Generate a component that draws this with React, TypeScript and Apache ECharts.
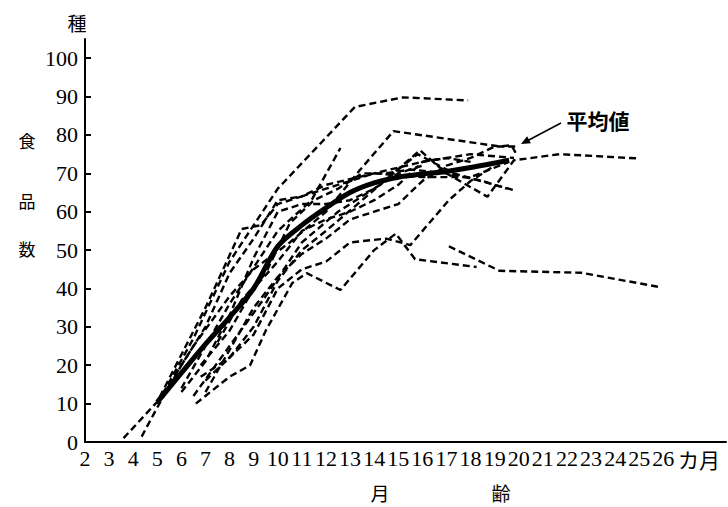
import React, { useEffect, useRef } from "react";
import * as echarts from "echarts";

// months (x) / food counts (y)
const xTicks = [2, 3, 4, 5, 6, 7, 8, 9, 10, 11, 12, 13, 14, 15, 16, 17, 18, 19, 20, 21, 22, 23, 24, 25, 26];
const yTicks = [0, 10, 20, 30, 40, 50, 60, 70, 80, 90, 100];

const average: number[][] = [
  [5, 10.4], [6, 18], [7, 25.5], [8, 32.5], [9, 40], [10, 51], [11, 56.5], [12, 61],
  [13, 65], [14, 67.5], [15, 69], [16, 69.8], [17, 70.5], [18, 71.5], [19.6, 73.4],
];

const child1 = [[5, 10], [6.5, 27], [8, 47], [10, 66], [13.2, 87.3], [15.2, 89.8], [17.9, 89]];
const child2 = [[5, 10], [6.5, 25], [8, 38], [9, 45], [10.5, 52], [12, 60], [13.4, 70.8], [14.8, 81], [17, 79], [19.2, 77], [19.7, 77.3], [19.9, 75]];
const child3 = [[6, 14], [8, 36], [10, 55], [11.4, 63], [12.6, 76.6]];
const child4 = [[3.6, 1], [5, 10.5], [7, 35], [8.5, 55.5], [9.3, 56.5], [10, 62], [11, 64], [12, 67], [14, 70], [16, 73], [18, 75], [19.8, 74]];
const child5 = [[7, 16], [8, 22], [9, 30], [10, 42], [11, 50], [12, 55], [13.5, 63], [15.9, 76], [17, 70], [18.7, 63.9], [19.8, 73.4], [21.7, 75], [24.9, 73.9]];
const child6 = [[6.5, 12], [8, 25], [9.5, 38], [11, 52], [12.5, 60], [14, 66], [15.8, 75], [17.3, 70], [19.8, 65.6]];
const child7 = [[6.6, 10], [8, 17], [8.85, 20], [9.5, 29], [10.6, 41.4], [11.2, 44], [12.6, 39.6], [14, 50], [14.9, 54.3], [15.7, 47.6], [18.25, 45.6]];
const child8 = [[6.8, 17], [8, 22], [9, 28], [10, 40], [11, 45], [12, 47], [13, 52], [14.5, 53], [15.5, 51.3], [17.1, 63], [18, 68], [19, 72]];
const child9 = [[17.1, 51], [19.2, 44.6], [22.6, 44.1], [25.9, 40.3]];
const child10 = [[7, 13], [8, 24], [9, 35], [10, 43], [11, 49], [12, 53], [13, 58], [14, 60], [15, 62], [16, 68], [17, 72], [18, 74], [19, 77], [20, 77]];
const child11 = [[6, 13], [7, 21], [8, 33], [9, 48], [10, 60], [11, 62], [12, 62], [13, 63], [14, 66], [15, 70], [16, 72]];
const child12 = [[4.35, 1.4], [5, 9], [6, 20], [7, 30], [8, 44], [9, 53], [10, 63], [11, 64], [12, 66], [13, 68], [14, 70], [16, 69], [18, 69], [19.6, 73]];
const child13 = [[6.8, 20], [8, 29], [9, 40], [10, 47], [11, 55], [12, 58], [13, 60], [14, 63], [15, 67], [16, 73], [17, 74], [18, 73]];
const child14 = [[7.5, 26], [8.5, 37], [9.5, 44], [10.5, 57], [11.5, 63], [12.5, 66], [13.5, 70], [14.5, 70], [15.5, 71], [17, 70], [18.5, 68], [19.5, 66]];

const children = [child1, child2, child3, child4, child5, child6, child7, child8, child9, child10, child11, child12, child13, child14];

const serif = "'Liberation Serif', 'Times New Roman', serif";
const cjk = "Noto Sans CJK JP";

export default function App() {
  const ref = useRef<HTMLDivElement>(null);
  useEffect(() => {
    if (!ref.current) return;
    const chart = echarts.init(ref.current, undefined, { renderer: "svg" });
    const dashed = children.map((d, i) => ({
      name: "c" + i,
      type: "line",
      data: d,
      symbol: "none",
      smooth: false,
      lineStyle: { color: "#000", width: 2.4, type: [7, 4] },
      z: 2,
    }));
    chart.setOption({
      animation: false,
      backgroundColor: "#fff",
      grid: { left: 85, right: 2, top: 39, bottom: 65 },
      xAxis: {
        type: "value",
        min: 2,
        max: 28.6,
        splitLine: { show: false },
        axisLine: { lineStyle: { color: "#000", width: 2 } },
        axisTick: { show: false },
        axisLabel: {
          customValues: xTicks,
          color: "#000",
          fontFamily: serif,
          fontSize: 22,
          margin: 5,
        },
      },
      yAxis: {
        type: "value",
        min: 0,
        max: 105,
        splitLine: { show: false },
        axisLine: { show: true, lineStyle: { color: "#000", width: 2 } },
        axisTick: { show: true, inside: true, length: 6, customValues: yTicks, lineStyle: { color: "#000", width: 2 } },
        axisLabel: {
          customValues: yTicks,
          color: "#000",
          fontFamily: serif,
          fontSize: 22,
          margin: 7,
        },
      },
      series: [
        ...dashed,
        {
          name: "平均値",
          type: "line",
          data: average,
          symbol: "none",
          smooth: 0.3,
          lineStyle: { color: "#000", width: 5 },
          z: 3,
        },
      ],
      graphic: [
        { type: "text", x: 77, y: 22, style: { text: "種", fontFamily: cjk, fontSize: 19, fill: "#000", align: "center", verticalAlign: "middle" } },
        { type: "text", x: 27, y: 140, style: { text: "食", fontFamily: cjk, fontSize: 17, fill: "#000", align: "center", verticalAlign: "middle" } },
        { type: "text", x: 27, y: 200, style: { text: "品", fontFamily: cjk, fontSize: 17, fill: "#000", align: "center", verticalAlign: "middle" } },
        { type: "text", x: 27, y: 248, style: { text: "数", fontFamily: cjk, fontSize: 17, fill: "#000", align: "center", verticalAlign: "middle" } },
        { type: "text", x: 380, y: 492, style: { text: "月", fontFamily: cjk, fontSize: 19, fill: "#000", align: "center", verticalAlign: "middle" } },
        { type: "text", x: 501, y: 492, style: { text: "齢", fontFamily: cjk, fontSize: 19, fill: "#000", align: "center", verticalAlign: "middle" } },
        { type: "text", x: 678, y: 459, style: { text: "カ月", fontFamily: cjk, fontSize: 21, fill: "#000", align: "left", verticalAlign: "middle" } },
        { type: "text", x: 598, y: 120, style: { text: "平均値", fontFamily: cjk, fontWeight: "bold", fontSize: 21, fill: "#000", align: "center", verticalAlign: "middle" } },
        { type: "line", shape: { x1: 561, y1: 123, x2: 526, y2: 141.5 }, style: { stroke: "#000", lineWidth: 1.5 } },
        { type: "polygon", shape: { points: [[521, 144], [530.9, 143.3], [527.1, 136.3]] }, style: { fill: "#000" } },
      ],
    });
    return () => chart.dispose();
  }, []);
  return <div ref={ref} style={{ position: "fixed", left: 0, top: 0, width: 728, height: 507 }} />;
}
